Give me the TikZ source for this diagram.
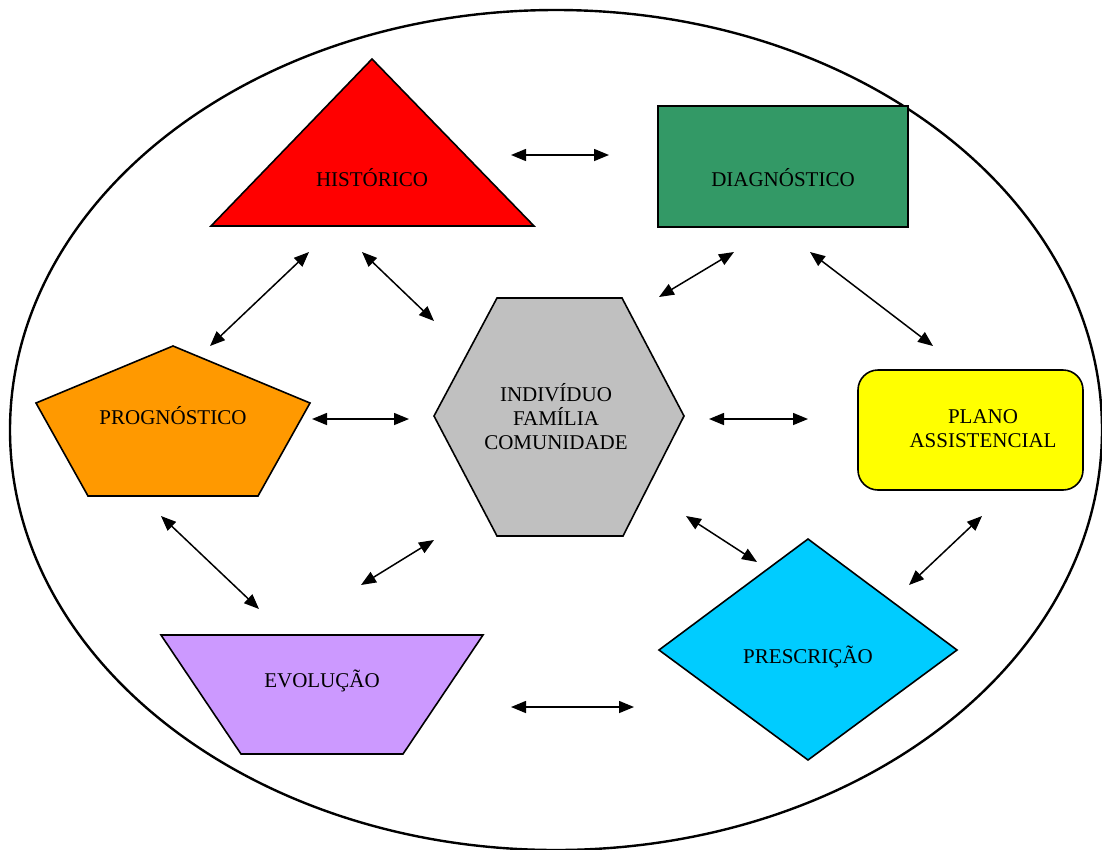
\documentclass[tikz,border=0pt]{standalone}
\usepackage{fontspec}
\setmainfont{Liberation Serif}
\usetikzlibrary{arrows.meta}
\definecolor{cRed}{HTML}{FF0000}
\definecolor{cGreen}{HTML}{339966}
\definecolor{cOrange}{HTML}{FF9900}
\definecolor{cGray}{HTML}{C0C0C0}
\definecolor{cYellow}{HTML}{FFFF00}
\definecolor{cCyan}{HTML}{00CCFF}
\definecolor{cLilac}{HTML}{CC99FF}
\tikzset{
  shapeline/.style={draw=black, line width=1.6pt, line join=miter},
  lbl/.style={font=\fontsize{21}{24}\selectfont, align=center, inner sep=0pt},
  biarrow/.style={line width=1.5pt, {Triangle[length=15pt,width=12pt]}-{Triangle[length=15pt,width=12pt]}},
}
\begin{document}
\begin{tikzpicture}[x=1pt,y=-1pt]
\useasboundingbox (0,0) rectangle (1102,849);
% outer ellipse
\draw[line width=2.4pt] (556,430) ellipse [x radius=546, y radius=420];

% shapes
\filldraw[shapeline, fill=cRed] (372,59) -- (534,226) -- (211,226) -- cycle;
\filldraw[shapeline, fill=cGreen] (658,106) rectangle (908,227);
\filldraw[shapeline, fill=cOrange] (36,403) -- (173,346) -- (310,403) -- (258,496) -- (88,496) -- cycle;
\filldraw[shapeline, fill=cGray] (434,416) -- (497,298) -- (622,298) -- (684,416) -- (623,536) -- (497,536) -- cycle;
\filldraw[shapeline, fill=cYellow, rounded corners=20pt] (858,370) rectangle (1083,490);
\filldraw[shapeline, fill=cCyan] (808,539) -- (957,650) -- (808,760) -- (659,650) -- cycle;
\filldraw[shapeline, fill=cLilac] (161,635) -- (483,635) -- (403,754) -- (241,754) -- cycle;

% labels
\node[lbl] (hist) at (372,178) {HISTÓRICO};
\node[lbl] (diag) at (783,178) {DIAGNÓSTICO};
\node[lbl] (prog) at (173,416) {PROGNÓSTICO};
\node[lbl] (ifc) at (556,417) {INDIVÍDUO\\FAMÍLIA\\COMUNIDADE};
\node[lbl] (plano) at (983,429) {PLANO\\ASSISTENCIAL};
\node[lbl] (presc) at (808,657) {PRESCRIÇÃO};
\node[lbl] (evol) at (322,681) {EVOLUÇÃO};

% arrow end points
\coordinate (a1s) at (511,155); \coordinate (a1e) at (609,155);
\coordinate (a2s) at (309,252); \coordinate (a2e) at (210,346);
\coordinate (a3s) at (362,252); \coordinate (a3e) at (434,321);
\coordinate (a4s) at (659,297); \coordinate (a4e) at (734,252);
\coordinate (a5s) at (810,252); \coordinate (a5e) at (933,346);
\coordinate (a6s) at (312,419); \coordinate (a6e) at (409,419);
\coordinate (a7s) at (709,419); \coordinate (a7e) at (808,419);
\coordinate (a8s) at (161,516); \coordinate (a8e) at (259,609);
\coordinate (a9s) at (361,585); \coordinate (a9e) at (434,540);
\coordinate (a10s) at (686,516); \coordinate (a10e) at (757,562);
\coordinate (a11s) at (982,516); \coordinate (a11e) at (909,585);
\coordinate (a12s) at (511,707); \coordinate (a12e) at (634,707);

\foreach \i in {1,...,12} {
  \draw[biarrow] (a\i s) -- (a\i e);
}
\end{tikzpicture}
\end{document}
